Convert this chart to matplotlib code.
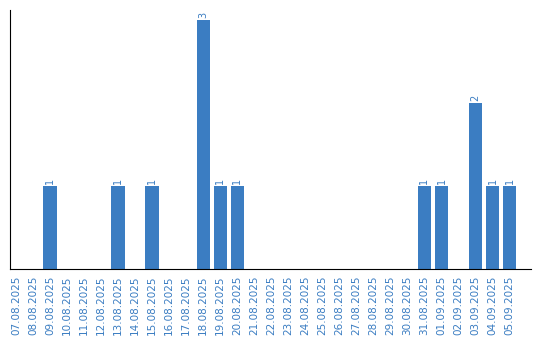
import matplotlib
matplotlib.use("Agg")
import matplotlib.pyplot as plt

# dates and counts
dates = ["07.08.2025", "08.08.2025", "09.08.2025", "10.08.2025", "11.08.2025",
         "12.08.2025", "13.08.2025", "14.08.2025", "15.08.2025", "16.08.2025",
         "17.08.2025", "18.08.2025", "19.08.2025", "20.08.2025", "21.08.2025",
         "22.08.2025", "23.08.2025", "24.08.2025", "25.08.2025", "26.08.2025",
         "27.08.2025", "28.08.2025", "29.08.2025", "30.08.2025", "31.08.2025",
         "01.09.2025", "02.09.2025", "03.09.2025", "04.09.2025", "05.09.2025"]
counts = [0, 0, 1, 0, 0, 0, 1, 0, 1, 0, 0, 3, 1, 1, 0,
          0, 0, 0, 0, 0, 0, 0, 0, 0, 1, 1, 0, 2, 1, 1]

blue = "#3b7dc2"

fig = plt.figure(figsize=(5.4, 3.4), dpi=100)
ax = fig.add_axes([10/540, 1 - 269/340, 521/540, 259/340])

x = list(range(len(dates)))
bars = ax.bar(x, counts, width=0.78, color=blue)

for xi, c in zip(x, counts):
    if c > 0:
        ax.text(xi, c + 0.02, str(c), rotation=90, ha="center", va="bottom",
                color=blue, fontsize=7)

ax.set_xlim(-0.35, 30.26)
ax.set_ylim(0, 3.12)
ax.set_xticks(x)
ax.set_xticklabels(dates, rotation=90, color=blue, fontsize=7.5)
ax.tick_params(axis="x", length=0, pad=4.5)
ax.set_yticks([])
ax.spines["top"].set_visible(False)
ax.spines["right"].set_visible(False)

fig.savefig("out.png", dpi=100)
